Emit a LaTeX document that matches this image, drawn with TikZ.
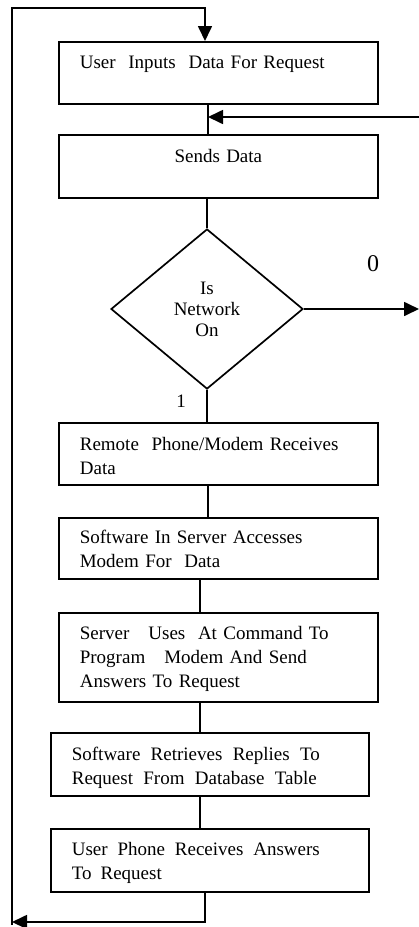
\documentclass[tikz,border=0pt]{standalone}
\usepackage{fontspec}
\setmainfont{Liberation Serif}
\usetikzlibrary{shapes.geometric,arrows.meta}
\tikzset{
  ln/.style={line width=1.7pt},
  arr/.style={ln,-{Triangle[length=15pt,width=14pt]}},
  box/.style={draw, ln, rectangle, inner xsep=21pt, inner ysep=0pt,
    text width=277pt, align=left, anchor=north west,
    font=\fontsize{19}{24}\selectfont},
  nbox/.style={box, text width=276pt},
  lbl/.style={inner sep=0pt}
}
\begin{document}
\begin{tikzpicture}[x=1pt,y=-1pt]
\useasboundingbox (0,0) rectangle (419,927);
% boxes
\node[box, text height=27pt, text depth=35pt] (b1) at (58,41)
  {User\ \ Inputs\ \ Data For Request};
\node[box, align=center, text height=28pt, text depth=35pt] (b2) at (58,134)
  {Sends Data};
\node[draw, ln, diamond, minimum width=192pt, minimum height=160pt, inner sep=0pt,
  align=center, font=\fontsize{19}{21}\selectfont] (d) at (207,309)
  {Is\\Network\\On};
\node[box, text height=28pt, text depth=34pt] (b3) at (58,422)
  {Remote\ \ Phone/Modem Receives\\Data};
\node[box, text height=26pt, text depth=35pt] (b4) at (58,517)
  {Software In Server Accesses\\Modem For\ \ Data};
\node[box, text height=27pt, text depth=62pt] (b5) at (58,612)
  {Server\ \ \ Uses\ \ At Command To\\Program\ \ \ Modem And Send\\Answers To Request};
\node[nbox, text height=28pt, text depth=35pt] (b6) at (50,732)
  {\makebox[248pt][l]{Software\hfill Retrieves\hfill Replies\hfill To}\\\makebox[245pt][l]{Request\hfill From\hfill Database\hfill Table}};
\node[nbox, text height=27pt, text depth=36pt] (b7) at (50,828)
  {\makebox[248pt][l]{User\hfill Phone\hfill Receives\hfill Answers}\\To\hspace{9pt}Request};
% labels
\node[lbl, font=\fontsize{24}{24}\selectfont] (zero) at (373,264) {0};
\node[lbl, font=\fontsize{19}{19}\selectfont] (one) at (181,401) {1};
% coordinates
\coordinate (j) at (208,117);
\coordinate (rin) at (419,117);
\coordinate (rout) at (419,309);
\coordinate (lb) at (12,922);
\coordinate (lbot) at (12,925);
\coordinate (lt) at (12,8);
% connectors
\draw[ln] (b1.south -| 208,0) -- (b2.north -| 208,0);
\draw[arr] (rin) -- (j);
\draw[ln] (b2.south -| 207,0) -- (d.north);
\draw[arr] (d.east) -- (rout);
\draw[ln] (d.south) -- (b3.north -| 207,0);
\draw[ln] (b3.south -| 208,0) -- (b4.north -| 208,0);
\draw[ln] (b4.south -| 200,0) -- (b5.north -| 200,0);
\draw[ln] (b5.south -| 200,0) -- (b6.north -| 200,0);
\draw[ln] (b6.south -| 200,0) -- (b7.north -| 200,0);
\draw[arr] (b7.south -| 205,0) |- (lb);
\draw[arr] (lbot) -- (lt) -| (b1.north -| 205,0);
\end{tikzpicture}
\end{document}
